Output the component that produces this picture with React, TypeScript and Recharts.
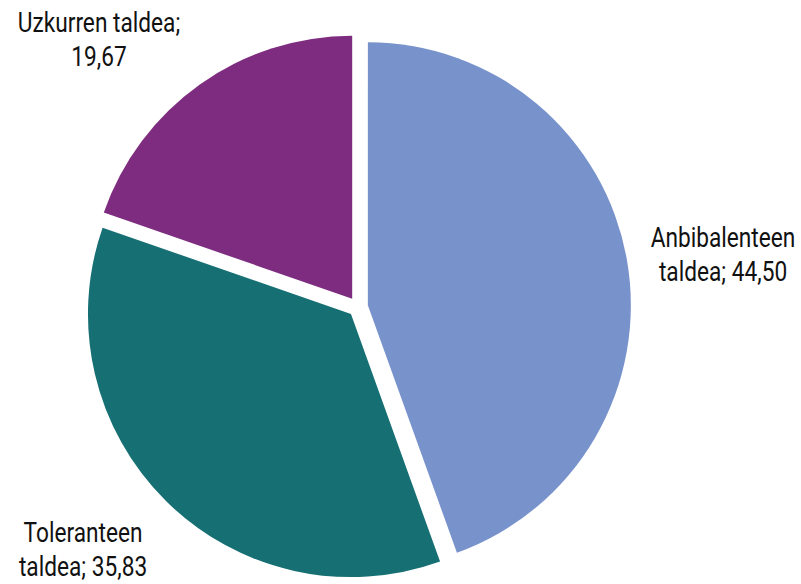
import { PieChart, Pie, Cell } from "recharts";

const groups = ["Anbibalenteen taldea", "Toleranteen taldea", "Uzkurren taldea"];
const shares = [44.5, 35.83, 19.67];
const colors = ["#7892CC", "#166F73", "#7D2C7F"];

// label lines as printed on the chart
const labelLines = [
  ["Anbibalenteen", "taldea; 44,50"],
  ["Toleranteen", "taldea; 35,83"],
  ["Uzkurren taldea;", "19,67"],
];
const labelPos = [
  { x: 723, y: 247 },
  { x: 83, y: 542 },
  { x: 99, y: 32 },
];

const data = groups.map((name, i) => ({ name, value: shares[i] }));

const CX = 358;
const CY = 307;
const RADIUS = 263;
const EXPLODE = 10;
const total = shares.reduce((a, b) => a + b, 0);

// centre of each exploded slice, pushed out along its middle angle (clockwise from 12 o'clock)
function sliceCenter(i: number) {
  const before = shares.slice(0, i).reduce((a, b) => a + b, 0);
  const mid = ((before + shares[i] / 2) / total) * 2 * Math.PI;
  return { cx: CX + EXPLODE * Math.sin(mid), cy: CY - EXPLODE * Math.cos(mid) };
}

// condensed look: the narrow face isn't installed, so squeeze Roboto
const SQUEEZE = 0.84;

export default function App() {
  return (
    <div style={{ position: "absolute", left: 0, top: 0, background: "#fff" }}>
      <PieChart width={801} height={584} margin={{ top: 0, right: 0, bottom: 0, left: 0 }}>
        {groups.map((g, i) => {
          const c = sliceCenter(i);
          return (
            <Pie
              key={g}
              data={data}
              dataKey="value"
              nameKey="name"
              cx={c.cx}
              cy={c.cy}
              innerRadius={0}
              outerRadius={RADIUS}
              startAngle={90}
              endAngle={-270}
              stroke="none"
              isAnimationActive={false}
            >
              {data.map((d, j) => (
                <Cell key={d.name} fill={j === i ? colors[i] : "none"} />
              ))}
            </Pie>
          );
        })}
        {labelLines.map((lines, i) => (
          <g key={groups[i]} transform={`translate(${labelPos[i].x} ${labelPos[i].y}) scale(${SQUEEZE} 1)`}>
            <text
              x={0}
              y={0}
              textAnchor="middle"
              fontFamily="Roboto, 'Noto Sans', sans-serif"
              fontSize={27}
              fill="#111"
            >
              <tspan x={0}>{lines[0]}</tspan>
              <tspan x={0} dy={34}>
                {lines[1]}
              </tspan>
            </text>
          </g>
        ))}
      </PieChart>
    </div>
  );
}
